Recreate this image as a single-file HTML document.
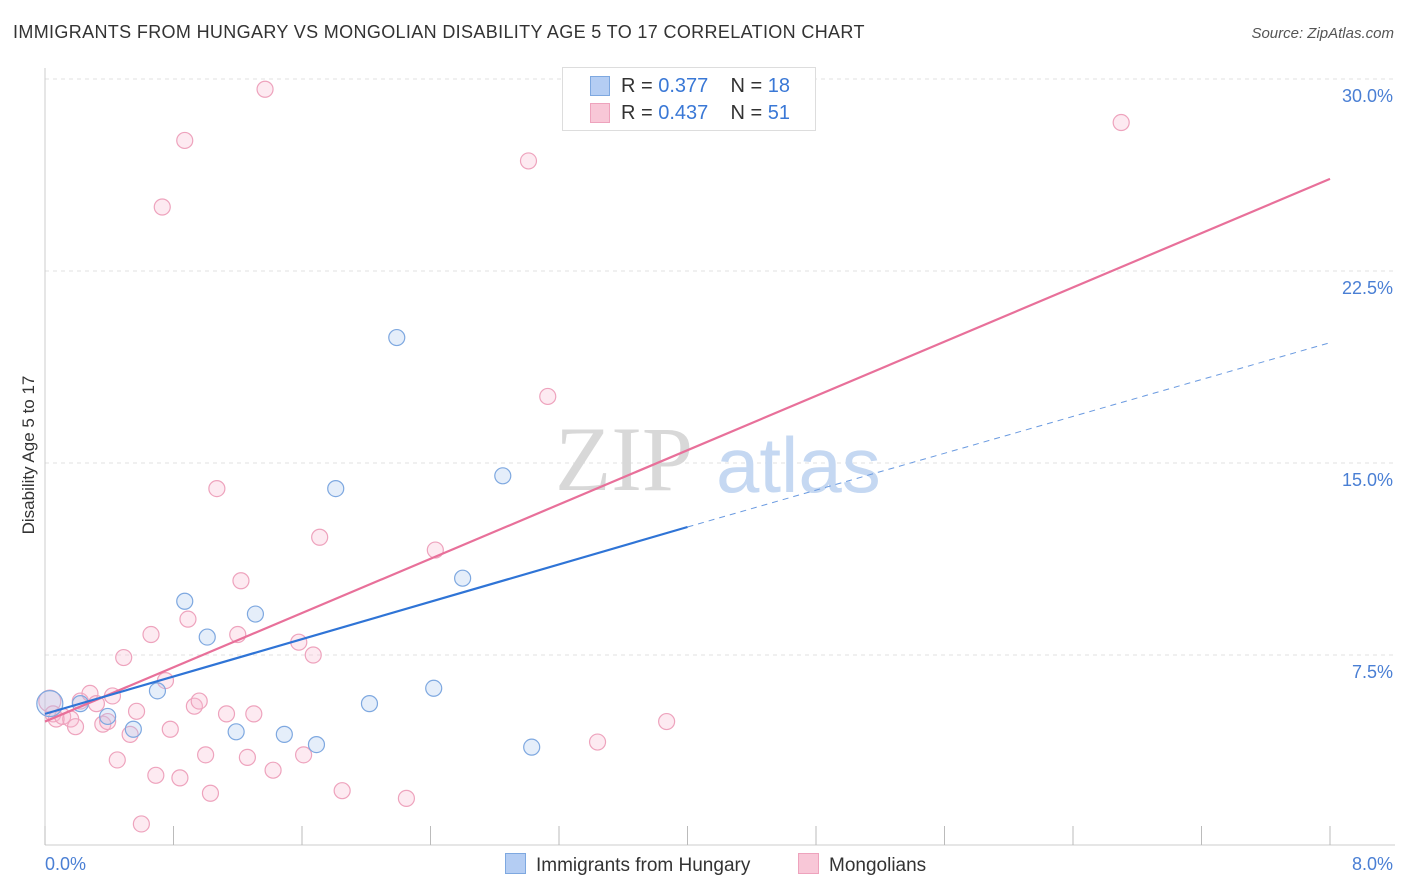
<!DOCTYPE html>
<html><head><meta charset="utf-8"><style>
body{margin:0;background:#fff;font-family:"Liberation Sans",sans-serif;}
#wrap{position:relative;width:1406px;height:892px;overflow:hidden;}
.t{position:absolute;white-space:nowrap;}
</style></head><body>
<div id="wrap">
<div class="t" style="left:13px;top:22px;font-size:18px;color:#333;letter-spacing:0.35px;">IMMIGRANTS FROM HUNGARY VS MONGOLIAN DISABILITY AGE 5 TO 17 CORRELATION CHART</div>
<div class="t" style="right:12px;top:25px;font-size:15px;color:#555;font-style:italic;">Source: ZipAtlas.com</div>
<svg id="svg" width="1406" height="892" style="position:absolute;left:0;top:0"></svg>
</div>
<script>
const xTicksPct=[0,0.8,1.6,2.4,3.2,4.0,4.8,5.6,6.4,7.2,8.0];
const yTicks=[7.5,15.0,22.5,30.0];
const blueX=[0.03,0.22,0.39,0.55,0.70,0.87,1.01,1.19,1.31,1.49,1.69,1.81,2.02,2.19,2.42,2.60,2.85,3.03];
const blueY=[5.6,5.6,5.1,4.6,6.1,9.6,8.2,4.5,9.1,4.4,4.0,14.0,5.6,19.9,6.2,10.5,14.5,3.9];
const pinkX=[0.03,0.05,0.07,0.11,0.16,0.19,0.22,0.28,0.32,0.36,0.39,0.42,0.45,0.49,0.53,0.57,0.60,0.66,0.69,0.73,0.75,0.78,0.84,0.87,0.89,0.93,0.96,1.00,1.03,1.07,1.13,1.20,1.22,1.26,1.30,1.37,1.42,1.58,1.61,1.67,1.71,1.85,2.25,2.43,3.01,3.13,3.44,3.87,6.70];
const pinkY=[5.7,5.2,5.0,5.1,5.0,4.7,5.7,6.0,5.6,4.8,4.9,5.9,3.4,7.4,4.4,5.3,0.9,8.3,2.8,25.0,6.5,4.6,2.7,27.6,8.9,5.5,5.7,3.6,2.1,14.0,5.2,8.3,10.4,3.5,5.2,29.6,3.0,8.0,3.6,7.5,12.1,2.2,1.9,11.6,26.8,17.6,4.1,4.9,28.3];
const pinkLine=[[0,4.9],[8.0,26.1]];
const blueLine=[[0,5.2],[4.0,12.5]];
const blueDash=[[4.0,12.5],[8.0,19.7]];
const X=v=>45+v*(1330-45)/8, Y=v=>847-v*25.6;
const s=document.getElementById('svg');const NS='http://www.w3.org/2000/svg';
function mk(t,a){const e=document.createElementNS(NS,t);for(const k in a)e.setAttribute(k,a[k]);s.appendChild(e);return e;}
yTicks.forEach(v=>{const l=mk('line',{x1:45,x2:1395,y1:Y(v),y2:Y(v),stroke:'#e2e2e2','stroke-dasharray':'4,4'});


const t=mk('text',{x:1393,y:Y(v)+23,'text-anchor':'end','font-size':18,fill:'#4a7fd4'});t.textContent=v.toFixed(1)+'%';

});
{const l=mk('line',{x1:45,x2:1395,y1:79,y2:79,stroke:'#e2e2e2','stroke-dasharray':'4,4'});}
{const a=mk('line',{x1:45,x2:45,y1:68,y2:845,stroke:'#ccc'});
const b=mk('line',{x1:45,x2:1395,y1:845,y2:845,stroke:'#ccc'});}
xTicksPct.forEach(v=>{const l=mk('line',{x1:X(v),x2:X(v),y1:826,y2:845,stroke:'#bbb'});});
[[0,'0.0%','start',45],[8,'8.0%','end',1393]].forEach(([v,txt,anc,x])=>{const t=mk('text',{x:x,y:870,'text-anchor':anc,'font-size':18,fill:'#4a7fd4'});t.textContent=txt;});
{const t=mk('text',{x:0,y:0,transform:'translate(34,455) rotate(-90)','text-anchor':'middle','font-size':17,fill:'#333'});t.textContent='Disability Age 5 to 17';}
{const t=mk('text',{x:555,y:490,'font-size':92,fill:'#d8d8d8','font-family':'Liberation Serif'});t.textContent='ZIP';
const u=mk('text',{x:716,y:492,'font-size':78,fill:'#c5d8f2'});u.textContent='atlas';}
pinkX.forEach((x,i)=>{const c=mk('circle',{cx:X(x),cy:Y(pinkY[i]),r:i==0?11:8,fill:'rgba(248,187,208,0.3)',stroke:'#eea3bd','stroke-width':1.2});});
blueX.forEach((x,i)=>{const c=mk('circle',{cx:X(x),cy:Y(blueY[i]),r:i==0?13:8,fill:'rgba(170,200,240,0.3)',stroke:'#7ea8e0','stroke-width':1.2});});
{const l=mk('line',{x1:X(pinkLine[0][0]),y1:Y(pinkLine[0][1]),x2:X(pinkLine[1][0]),y2:Y(pinkLine[1][1]),stroke:'#e8709a','stroke-width':2.2});}
{const l=mk('line',{x1:X(blueLine[0][0]),y1:Y(blueLine[0][1]),x2:X(blueLine[1][0]),y2:Y(blueLine[1][1]),stroke:'#2f74d6','stroke-width':2.2});}
{const l=mk('line',{x1:X(blueDash[0][0]),y1:Y(blueDash[0][1]),x2:X(blueDash[1][0]),y2:Y(blueDash[1][1]),stroke:'#6a9ae0','stroke-width':1,'stroke-dasharray':'6,5'});}
</script>
<div class="t" style="left:562px;top:67px;width:252px;height:62px;border:1px solid #ddd;background:#fff;font-size:20px;color:#333;">
<div style="position:absolute;left:27px;top:8px;width:18px;height:18px;background:#b4cdf3;border:1px solid #7ea8e0"></div>
<div style="position:absolute;left:58px;top:7px">R = <span style="color:#3a78d6">0.377</span>&nbsp;&nbsp;&nbsp; N = <span style="color:#3a78d6">18</span></div>
<div style="position:absolute;left:27px;top:35px;width:18px;height:18px;background:#f8c7d7;border:1px solid #eea3bd"></div>
<div style="position:absolute;left:58px;top:34px">R = <span style="color:#3a78d6">0.437</span>&nbsp;&nbsp;&nbsp; N = <span style="color:#3a78d6">51</span></div>
</div>
<div class="t" style="left:505px;top:853px;font-size:19px;color:#333;"><span style="display:inline-block;width:19px;height:19px;background:#b4cdf3;border:1px solid #7ea8e0;vertical-align:-3px;margin-right:10px"></span>Immigrants from Hungary</div>
<div class="t" style="left:798px;top:853px;font-size:19px;color:#333;"><span style="display:inline-block;width:19px;height:19px;background:#f8c7d7;border:1px solid #eea3bd;vertical-align:-3px;margin-right:10px"></span>Mongolians</div>
</body></html>
